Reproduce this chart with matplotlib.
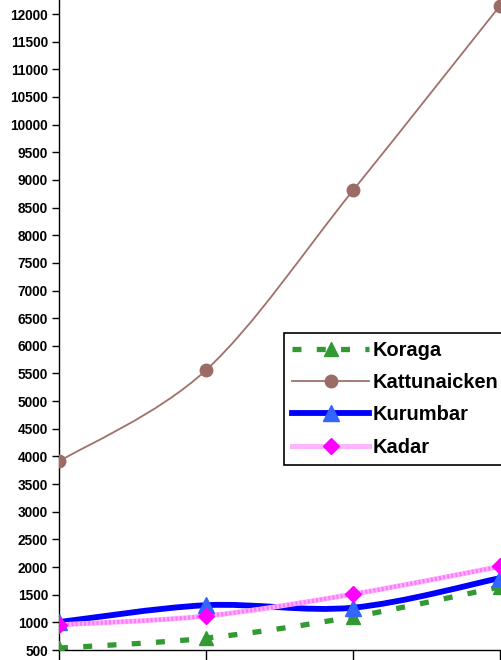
import matplotlib
matplotlib.use("Agg")
import matplotlib.pyplot as plt
from matplotlib.path import Path
from matplotlib.patches import PathPatch
from matplotlib.lines import Line2D
import numpy as np

plt.rcParams['font.family'] = ['Liberation Sans', 'DejaVu Sans']
plt.rcParams['font.weight'] = 'bold'

x_pos = [0, 1, 2, 3]
koraga = [535, 715, 1100, 1640]
kattunaicken = [3910, 5560, 8810, 12150]
kurumbar = [1005, 1310, 1265, 1800]
kadar = [955, 1115, 1510, 2010]
y_ticks = list(range(500, 12001, 500))

series = [
    ("Koraga", koraga, dict(color='#339933', lw=3.8, dashes=(1.7, 2.9)),
     dict(marker='^', ms=10, mfc='#339933', mec='#339933')),
    ("Kattunaicken", kattunaicken, dict(color='#A0706A', lw=1.3, dashes=None),
     dict(marker='o', ms=9, mfc='#9C6B66', mec='#9C6B66')),
    ("Kurumbar", kurumbar, dict(color='#0000FF', lw=4.2, dashes=None),
     dict(marker='^', ms=11, mfc='#3366FF', mec='#3366FF')),
    ("Kadar", kadar, dict(color='#FFB3FF', lw=3.6, dashes=None),
     dict(marker='D', ms=8, mfc='#FF00FF', mec='#FF00FF')),
]


def smooth_path(xs, ys):
    xs = np.asarray(xs, float)
    ys = np.asarray(ys, float)
    pts = np.column_stack([xs, ys])
    n = len(pts)
    verts = [pts[0]]
    codes = [Path.MOVETO]
    for i in range(n - 1):
        p0 = pts[i - 1] if i > 0 else pts[i]
        p1 = pts[i]
        p2 = pts[i + 1]
        p3 = pts[i + 2] if i + 2 < n else pts[i + 1]
        c1 = p1 + (p2 - p0) / 6.0
        c2 = p2 - (p3 - p1) / 6.0
        verts += [c1, c2, p2]
        codes += [Path.CURVE4] * 3
    return Path(verts, codes)


fig = plt.figure(figsize=(5.02, 6.60), dpi=100)
W, H = 502.0, 660.0
x0_px, step_px = 59.0, 147.0
xmax = 3.6
bottom_px, y500_px, y12000_px = 650.0, 650.0, 14.0
per_unit = (y500_px - y12000_px) / (12000 - 500)
ytop = 12500
top_px = y500_px - (ytop - 500) * per_unit
left = x0_px / W
width = xmax * step_px / W
bottom = (H - bottom_px) / H
height = (bottom_px - top_px) / H
ax = fig.add_axes([left, bottom, width, height])
ax.set_xlim(0, xmax)
ax.set_ylim(500, ytop)

for name, vals, lstyle, mstyle in series:
    p = smooth_path(x_pos, vals)
    patch = PathPatch(p, fill=False, edgecolor=lstyle['color'], lw=lstyle['lw'],
                      capstyle='butt', joinstyle='round', zorder=2)
    if lstyle['dashes'] is not None:
        patch.set_linestyle((0, lstyle['dashes']))
    ax.add_patch(patch)
    if name == "Kadar":
        p2 = PathPatch(p, fill=False, edgecolor='#FF77FF', lw=3.0,
                       linestyle=(0, (0.5, 0.5)), capstyle='butt', zorder=2.1)
        ax.add_patch(p2)
    ax.plot(x_pos, vals, linestyle='none', zorder=3, **mstyle)

ax.set_yticks(y_ticks)
ax.set_yticklabels([str(v) for v in y_ticks], fontsize=9.8, fontweight='bold')
ax.set_xticks(x_pos)
ax.set_xticklabels([])
ax.tick_params(axis='y', direction='out', length=5, width=1, pad=3)
ax.tick_params(axis='x', direction='out', length=7, width=1)
for s in ['top', 'right']:
    ax.spines[s].set_visible(False)
for s in ['left', 'bottom']:
    ax.spines[s].set_linewidth(1)

handles = []
for name, vals, lstyle, mstyle in series:
    kw = dict(color=lstyle['color'], lw=lstyle['lw'])
    if lstyle['dashes'] is not None:
        kw['dashes'] = lstyle['dashes']
    handles.append(Line2D([], [], **kw, **mstyle))
leg = fig.legend(handles, [s[0] for s in series], loc='upper left',
                 bbox_to_anchor=(284 / W, 1 - 333 / H), bbox_transform=fig.transFigure,
                 prop=dict(family='Liberation Sans', weight='bold', size=14.4),
                 frameon=True, fancybox=False, edgecolor='black', framealpha=1,
                 handlelength=3.85, handletextpad=0.2, labelspacing=0.66,
                 borderpad=0.4, borderaxespad=0, numpoints=1)
leg.get_frame().set_linewidth(1.2)

fig.savefig("out.png", dpi=100)
